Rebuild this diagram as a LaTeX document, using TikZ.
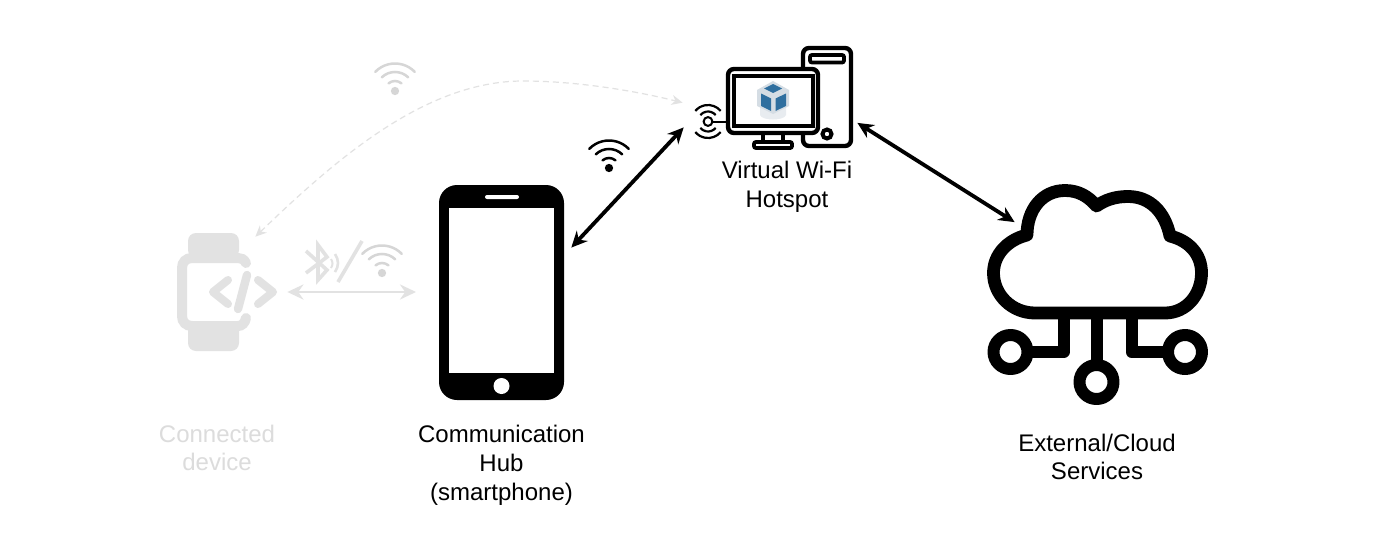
\documentclass[tikz,border=0pt]{standalone}
\usepackage{fontspec}
\setmainfont{Liberation Sans}
\usetikzlibrary{arrows.meta}
\definecolor{faint}{HTML}{E2E2E2}
\definecolor{faintwifi}{HTML}{D6D6D6}
\definecolor{fainttext}{HTML}{DCDCDC}
\definecolor{vbblue}{HTML}{2F6F9F}
\definecolor{vbgrey}{HTML}{D5DDE4}
\tikzset{
 linkarrow/.style={line width=1.9pt,black,{Stealth[length=8pt,width=7.5pt]}-{Stealth[length=8pt,width=7.5pt]}},
 fadearrow/.style={line width=1.3pt,faint,{Stealth[length=8pt,width=7.5pt]}-{Stealth[length=8pt,width=7.5pt]}},
 dasharrow/.style={line width=.6pt,faint,dash pattern=on 3pt off 2pt,{Stealth[length=5.5pt,width=5pt]}-{Stealth[length=5.5pt,width=5pt]}},
 label/.style={align=center,font=\fontsize{12}{14.4}\selectfont,text=black,inner sep=0pt},
 fadelabel/.style={label,text=fainttext},
 wifi/.pic={
  \fill[pic actions] (0,0) circle (2.8);
  \draw[pic actions,line cap=round,fill=none] (-50:10) arc (-50:-130:10);
  \draw[pic actions,line cap=round,fill=none] (-46:19) arc (-46:-134:19);
  \draw[pic actions,line cap=round,fill=none] (-44:27.5) arc (-44:-136:27.5);
 },
}
\begin{document}
\begin{tikzpicture}[x=0.5pt,y=-0.5pt]
\useasboundingbox (0,0) rectangle (1382,546);
\fill[white] (0,0) rectangle (1382,546);

% ---- phone
\fill[black,rounded corners=9pt] (439,185) rectangle (564,400);
\fill[white] (449,208) rectangle (554,373);
\fill[white,rounded corners=1pt] (485,195) rectangle (519,199);
\fill[white] (501.5,386) circle (8);
\node[label] (hubtext) at (501.5,465.5) {Communication\\Hub\\(smartphone)};

% ---- cloud
\begin{scope}[line width=6.4pt,line join=round,line cap=round]
\draw (1035,313) -- (1165,313)
  .. controls (1186,313) and (1201.5,295) .. (1201.5,273)
  .. controls (1201.5,255) and (1190,241) .. (1170,236)
  .. controls (1165,212) and (1150,196.5) .. (1128,196.5)
  .. controls (1115,196.5) and (1105,200) .. (1096.5,206)
  .. controls (1088,196) and (1078,190.5) .. (1065,190.5)
  .. controls (1042,190.5) and (1027,210) .. (1027,235)
  .. controls (1007,240) and (993.5,255) .. (993.5,273)
  .. controls (993.5,295) and (1012,313) .. (1035,313);
\end{scope}
\begin{scope}[line width=6pt,line join=round]
\draw (1063.5,313) -- (1063.5,352) -- (1028,352);
\draw (1131.5,313) -- (1131.5,352) -- (1167,352);
\draw (1096.5,313) -- (1096.5,365);
\draw (1010.5,352) circle (17);
\draw (1185,352) circle (17);
\draw (1096.5,382) circle (17);
\end{scope}
\node[inner sep=0pt] (cloud) at (1016,223) {};
\node[label] (cloudtext) at (1097,457) {External/Cloud\\Services};

% ---- virtual hotspot
\draw[line width=2.2pt,rounded corners=3pt,fill=white] (803,48) rectangle (851,146);
\draw[line width=1.9pt,rounded corners=1pt] (810,55) rectangle (844,62.5);
\draw[line width=2pt] (827,134) circle (4.5);
\draw[line width=2.2pt,rounded corners=3pt,fill=white] (728,69) rectangle (818,133);
\draw[line width=1.9pt,fill=white] (734,76) rectangle (813,126);
\draw[line width=2pt] (763,134) -- (763,143) (783,134) -- (783,143);
\draw[line width=1.9pt,rounded corners=1pt,fill=white] (754,142) rectangle (792,148);
% VirtualBox cube
\fill[vbgrey!55] (760,106) -- (760,115) .. controls (762,121) and (784,121) .. (786,115) -- (786,106) -- cycle;
\fill[vbgrey] (773,81) -- (789,90) -- (789,106) -- (773,114) -- (757,106) -- (757,90) -- cycle;
\fill[vbblue] (773,84) -- (782,88.5) -- (773,93) -- (764,88.5) -- cycle;
\fill[vbblue] (761,93.5) -- (771,98.5) -- (771,111) -- (761,106) -- cycle;
\fill[vbblue] (786,93.5) -- (775.5,98.5) -- (775.5,111) -- (786,106) -- cycle;
% antenna
\draw[line width=1pt] (708,121.5) circle (4.4);
\draw[line width=1pt] (712.4,121.5) -- (727,121.5);
\draw[line width=1.1pt] (708,121.5)++(-40:10) arc (-40:-140:10);
\draw[line width=1.1pt] (708,121.5)++(-40:16.5) arc (-40:-140:16.5);
\draw[line width=1.1pt] (708,121.5)++(40:10) arc (40:140:10);
\draw[line width=1.1pt] (708,121.5)++(40:16.5) arc (40:140:16.5);
\node[inner sep=0pt] (hotspotL) at (685,126) {};
\node[inner sep=0pt] (hotspotR) at (856,122) {};
\node[inner sep=0pt] (hotspotD) at (684,103) {};
\node[inner sep=0pt] (hubport) at (570,249) {};
\node[label] (hotspottext) at (787,186.5) {Virtual Wi-Fi\\Hotspot};

% ---- watch
\begin{scope}[faint]
\fill[rounded corners=4pt] (188,258) -- (188,233) -- (239,233) -- (239,258) -- cycle;
\fill[rounded corners=4pt] (188,322) -- (188,351) -- (239,351) -- (239,322) -- cycle;
\draw[line width=5pt,line cap=round] (246,263) .. controls (244,259) and (241,258) .. (238,258) -- (192,258) .. controls (186,258) and (182,262) .. (182,268) -- (182,316) .. controls (182,322) and (186,326) .. (192,326) -- (238,326) .. controls (242,326) and (245,323) .. (246,318);
\draw[line width=4pt,line cap=round,line join=round] (228,280) -- (213,292) -- (228,304);
\draw[line width=4pt,line cap=round,line join=round] (258,280) -- (273,292) -- (258,304);
\draw[line width=4.2pt,line cap=round] (247,275) -- (238,309);
\end{scope}
\node[inner sep=0pt] (watchE) at (286,292) {};
\node[inner sep=0pt] (watchN) at (254,238) {};
\coordinate (watchlinkend) at (416,292);
\node[fadelabel] (watchtext) at (217,448) {Connected\\device};

% ---- links
\draw[linkarrow] (hubport) -- (hotspotL);
\draw[linkarrow] (hotspotR) -- (cloud);
\draw[fadearrow] (watchE) -- (watchlinkend);
\draw[dasharrow] (watchN) .. controls (335,160) and (425,81) .. (523,81) .. controls (580,81) and (640,92) .. (hotspotD);

% ---- wireless marks
\pic[draw=black,fill=black,line width=1.25pt] at (609,168) {wifi};
\pic[draw=faintwifi,fill=faintwifi,line width=1.25pt] at (395,91) {wifi};
\pic[draw=faintwifi,fill=faintwifi,line width=1.25pt] at (382,273) {wifi};
% bluetooth rune
\draw[faint,line width=1.8pt,line join=miter] (306,251) -- (327,270) -- (318,280) -- (318,245) -- (327,257) -- (306,273);
\draw[faint,line width=1pt] (331,259) .. controls (333,262) and (333,265) .. (331,268);
\draw[faint,line width=1.3pt] (335,254) .. controls (339,260) and (339,266) .. (335,272);
\draw[faint,line width=1.8pt] (362,241) -- (338,282);
\end{tikzpicture}
\end{document}
